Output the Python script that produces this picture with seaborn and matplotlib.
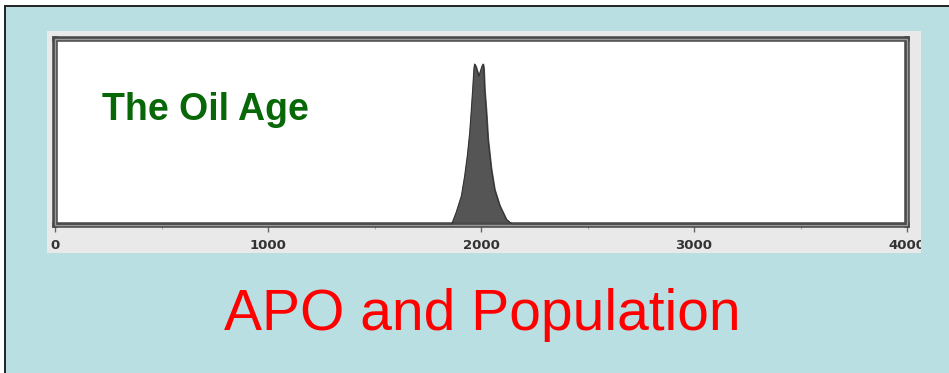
import matplotlib
matplotlib.use("Agg")
import matplotlib.pyplot as plt
import seaborn as sns
import pandas as pd
from matplotlib.patches import Rectangle
from matplotlib.ticker import MultipleLocator

# Oil production profile (relative)
years = [0, 1850, 1861, 1884, 1908, 1923, 1936, 1947, 1955, 1962, 1967, 1970, 1976,
         1990, 2004, 2010, 2013, 2017, 2025, 2033, 2048, 2064, 2088, 2119, 2150,
         2170, 4000]
output = [0, 0, 0.0, 0.08, 0.18, 0.30, 0.43, 0.57, 0.72, 0.86, 0.97, 0.995, 0.98,
          0.92, 0.98, 0.995, 0.97, 0.84, 0.70, 0.53, 0.35, 0.22, 0.12, 0.035, 0.0,
          0, 0]
tick_years = [0, 1000, 2000, 3000, 4000]
tick_labels = ["0", "1000", "2000", "3000", "4000"]

df = pd.DataFrame({"year": years, "output": output})

sns.set_style("white")
fig = plt.figure(figsize=(9.49, 3.73), dpi=100)
fig.patch.set_facecolor("white")

W, H = 949, 373

def fx(px):
    return px / W

def fy(py):
    return 1 - py / H

# slide background with border on top/left
fig.add_artist(Rectangle((fx(4.5), -0.05), 1.1, fy(5.5) + 0.05, transform=fig.transFigure,
                         facecolor="#B9DFE2", edgecolor="#222222", lw=1.4, zorder=-2))

# inset picture background
fig.add_artist(Rectangle((fx(47), fy(253)), fx(874), 222 / H, transform=fig.transFigure,
                         facecolor="#E9E9E9", edgecolor="none", zorder=-1))

ax = fig.add_axes([fx(55), fy(225), fx(852), 186 / H])
ax.set_zorder(1)
ax.set_facecolor("white")

ax.fill_between(df["year"], df["output"], color="#555555", zorder=2)
sns.lineplot(data=df, x="year", y="output", ax=ax, color="#333333", lw=0.8, zorder=3)

ax.set_xlim(0, 4000)
ax.set_ylim(0, 1.15)
ax.set_xlabel("")
ax.set_ylabel("")
ax.set_yticks([])
ax.set_xticks(tick_years)
ax.set_xticklabels(tick_labels, fontsize=9.5, fontweight="bold", color="#333333")
ax.xaxis.set_minor_locator(MultipleLocator(500))
ax.tick_params(axis="x", which="major", direction="out", length=5, width=1,
               color="#666666", pad=5, bottom=True)
ax.tick_params(axis="x", which="minor", direction="out", length=3, width=0.8,
               color="#aaaaaa", bottom=True)

for spine in ax.spines.values():
    spine.set_visible(True)
    spine.set_color("#4a4a4a")
    spine.set_linewidth(4)
# lighter inner line gives the scanned double frame
ax.add_patch(Rectangle((0, 0), 1, 1, transform=ax.transAxes, fill=False,
                       edgecolor="#9a9a9a", lw=1, zorder=5, clip_on=False))

# clip tick labels to the inset picture
clip_rect = Rectangle((fx(47), fy(253)), fx(874), 222 / H, transform=fig.transFigure)
for lbl in ax.get_xticklabels():
    lbl.set_clip_path(clip_rect)

fig.text(fx(102), fy(120), "The Oil Age", fontsize=27, fontweight="bold",
         color="#086808", family="Liberation Sans", va="baseline", ha="left", zorder=5)

fig.text(fx(482), fy(330), "APO and Population", fontsize=41,
         color="#FF0000", family="Liberation Sans", va="baseline", ha="center")

fig.savefig("out.png", dpi=100, facecolor=fig.get_facecolor())
